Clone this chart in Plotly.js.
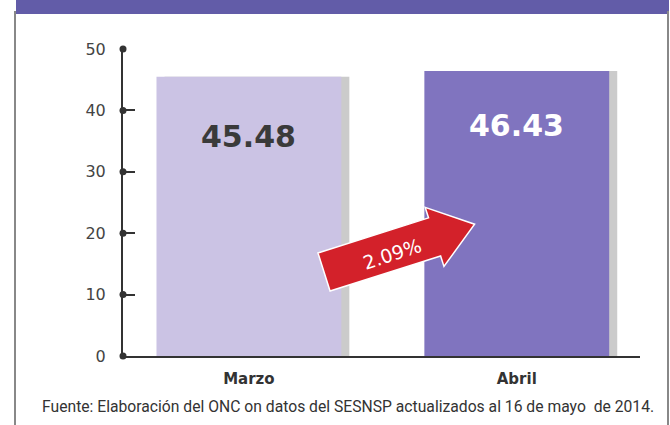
<!DOCTYPE html>
<html>
<head>
<meta charset="utf-8">
<script src="https://cdn.plot.ly/plotly-3.0.1.min.js"></script>
<style>
  html, body { margin: 0; padding: 0; background: #fff; }
  #chart { width: 670px; height: 425px; }
</style>
</head>
<body>
<div id="chart"></div>
<script>
// chart data
const months = ['Marzo', 'Abril'];
const rates = [45.48, 46.43];
const change = '2.09%';
const yTicks = [0, 10, 20, 30, 40, 50];
const source = 'Fuente: Elaboración del ONC on datos del SESNSP actualizados al 16 de mayo  de 2014.';

// plot area in pixels (used to place decorations in paper units)
const plot = { l: 123, r: 30, t: 49, b: 69, w: 670, h: 425 };
const pw = plot.w - plot.l - plot.r;
const ph = plot.h - plot.t - plot.b;
const px = x => (x - plot.l) / pw;
const py = y => (plot.h - plot.b - y) / ph;

// fat red arrow, built in pixels then converted
function arrowPath(sx, sy, angleDeg, len, bodyHalf, headHalf, headLen) {
    const a = angleDeg * Math.PI / 180;
    const u = [Math.cos(a), -Math.sin(a)];
    const n = [Math.sin(a), Math.cos(a)];
    const pt = (along, side) => [sx + u[0] * along + n[0] * side, sy + u[1] * along + n[1] * side];
    const pts = [
        pt(0, -bodyHalf), pt(len - headLen, -bodyHalf), pt(len - headLen, -headHalf),
        pt(len, 0),
        pt(len - headLen, headHalf), pt(len - headLen, bodyHalf), pt(0, bodyHalf)
    ];
    return 'M ' + pts.map(p => px(p[0]).toFixed(4) + ',' + py(p[1]).toFixed(4)).join(' L ') + ' Z';
}

const shadow = {
    type: 'bar', x: [0, 1], y: rates,
    width: 0.69, offset: -0.315,
    marker: { color: 'rgba(70,70,70,0.28)' },
    hoverinfo: 'skip', showlegend: false
};

const bars = {
    type: 'bar', x: [0, 1], y: rates,
    width: 0.69, offset: -0.345,
    marker: { color: ['#cbc3e4', '#8074bf'], line: { width: 0 } },
    showlegend: false
};

const tickDots = {
    type: 'scatter', mode: 'markers',
    x: yTicks.map(() => -0.47), y: yTicks,
    marker: { color: '#333', size: 7 },
    cliponaxis: false, hoverinfo: 'skip', showlegend: false
};

const layout = {
    width: 670, height: 425,
    margin: { l: plot.l, r: plot.r, t: plot.t, b: plot.b },
    paper_bgcolor: '#ffffff',
    plot_bgcolor: 'rgba(0,0,0,0)',
    barmode: 'overlay',
    font: { family: 'DejaVu Sans, sans-serif', color: '#444' },
    xaxis: {
        range: [-0.47, 1.46],
        tickmode: 'array', tickvals: [0, 1], ticktext: months,
        tickfont: { size: 15, color: '#333', family: 'DejaVu Sans, sans-serif', weight: 'bold' },
        ticklabelstandoff: 8,
        showgrid: false, zeroline: false,
        showline: true, linecolor: '#333', linewidth: 1.5,
        ticks: '', fixedrange: true
    },
    yaxis: {
        range: [0, 50],
        tickmode: 'array', tickvals: yTicks,
        tickfont: { size: 16, color: '#444' },
        ticks: 'inside', ticklen: 12, tickwidth: 2, tickcolor: '#333',
        ticklabelstandoff: 12,
        showgrid: false, zeroline: false,
        showline: true, linecolor: '#333', linewidth: 2,
        fixedrange: true
    },
    shapes: [
        // header band
        { type: 'rect', xref: 'paper', yref: 'paper', x0: px(16), x1: px(669), y0: py(14), y1: py(0),
          fillcolor: '#625ca8', line: { width: 0 }, layer: 'above' },
        // frame sides
        { type: 'line', xref: 'paper', yref: 'paper', x0: px(15), x1: px(15), y0: py(11), y1: py(425),
          line: { color: '#888', width: 2 } },
        { type: 'line', xref: 'paper', yref: 'paper', x0: px(668), x1: px(668), y0: py(11), y1: py(425),
          line: { color: '#888', width: 2 } },
        // arrow
        { type: 'path', xref: 'paper', yref: 'paper', path: arrowPath(324, 272, 17.6, 158, 20, 31, 42),
          fillcolor: '#d3212a', line: { color: '#ffffff', width: 1.5 }, layer: 'above' }
    ],
    annotations: [
        { x: 0, y: 35.7, xref: 'x', yref: 'y', text: rates[0].toFixed(2), showarrow: false,
          xanchor: 'center', yanchor: 'middle',
          font: { size: 30, color: '#3a3a3a', family: 'DejaVu Sans, sans-serif', weight: 'bold' } },
        { x: 1, y: 37.5, xref: 'x', yref: 'y', text: rates[1].toFixed(2), showarrow: false,
          xanchor: 'center', yanchor: 'middle',
          font: { size: 30, color: '#ffffff', family: 'DejaVu Sans, sans-serif', weight: 'bold' } },
        { x: px(392), y: py(254), xref: 'paper', yref: 'paper', text: change, showarrow: false,
          xanchor: 'center', yanchor: 'middle', textangle: -18,
          font: { size: 19, color: '#ffffff', family: 'DejaVu Sans, sans-serif' } },
        { x: px(348), y: py(406), xref: 'paper', yref: 'paper', text: source, showarrow: false,
          xanchor: 'center', yanchor: 'middle',
          font: { size: 15.7, color: '#333', family: 'Liberation Sans Narrow, Roboto, sans-serif' } }
    ]
};

Plotly.newPlot('chart', [shadow, bars, tickDots], layout, { displayModeBar: false, staticPlot: true });
</script>
</body>
</html>
